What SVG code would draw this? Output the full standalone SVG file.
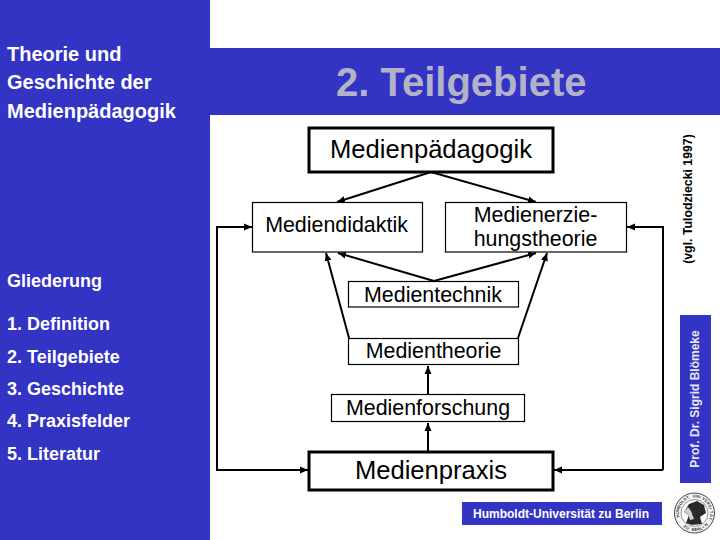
<svg xmlns="http://www.w3.org/2000/svg" width="720" height="540" viewBox="0 0 720 540">
<style>
text{font-family:"Liberation Sans",Arial,sans-serif;fill:#000}
.side{font-weight:700;fill:#fff;font-size:18px}
.head{font-size:20px}
.box{fill:#fff;stroke:#000;stroke-width:1.2}
.big{fill:#fff;stroke:#000;stroke-width:3}
.lab{font-size:21.4px;text-anchor:middle}
.lab2{font-size:25.600px;text-anchor:middle}
.con{fill:none;stroke:#000;stroke-width:2}
.seal{font-size:4px;font-weight:700}
</style>
<defs>
<marker id="arr" viewBox="0 0 8 8" refX="8" refY="4" markerWidth="8" markerHeight="8" markerUnits="userSpaceOnUse" orient="auto"><path d="M0 0.5L8 4L0 7.5Z" fill="#000"/></marker>
</defs>
<rect width="720" height="540" fill="#fff"/>
<g id="panel">
<rect x="0" y="0" width="210" height="540" fill="#3333c4"/>
<rect x="210" y="48" width="510" height="67" fill="#3333c4"/>
<text x="336" y="96" font-size="40" font-weight="700" style="fill:#b2b2c8">2. Teilgebiete</text>
</g>
<g id="sidebar">
<text class="side head" x="7" y="61">Theorie und</text>
<text class="side head" x="7" y="89">Geschichte der</text>
<text class="side head" x="7" y="118">Medienpädagogik</text>
<text class="side" x="7" y="287">Gliederung</text>
<text class="side" x="7" y="330">1. Definition</text>
<text class="side" x="7" y="363">2. Teilgebiete</text>
<text class="side" x="7" y="395">3. Geschichte</text>
<text class="side" x="7" y="427">4. Praxisfelder</text>
<text class="side" x="7" y="460">5. Literatur</text>
</g>
<g id="connectors">
<path class="con" marker-end="url(#arr)" d="M431 172L337 202"/>
<path class="con" marker-end="url(#arr)" d="M431 172L536 202"/>
<path class="con" marker-end="url(#arr)" d="M434 281L338 253"/>
<path class="con" marker-end="url(#arr)" d="M434 281L536 253"/>
<path class="con" marker-end="url(#arr)" d="M349 338L326 253"/>
<path class="con" marker-end="url(#arr)" d="M518 338L547 253"/>
<path class="con" marker-end="url(#arr)" d="M428 394L428 366"/>
<path class="con" marker-end="url(#arr)" d="M428 451L428 423"/>
<path class="con" marker-end="url(#arr)" d="M309 470L217 470L217 227L252 227"/>
<path class="con" marker-end="url(#arr)" d="M663 470L663 227L627 227"/>
<path class="con" marker-end="url(#arr)" d="M663 470L554 470"/>
<path class="con" marker-end="url(#arr)" d="M217 470L308 470"/>
</g>
<g id="n-medienpaedagogik"><rect class="big" x="309" y="128" width="244" height="44"/><text class="lab2" x="431" y="158">Medienpädagogik</text></g>
<g id="n-mediendidaktik"><rect class="box" x="252.500" y="202.500" width="170" height="49.500"/><text class="lab" x="336.500" y="231.500">Mediendidaktik</text></g>
<g id="n-medienerziehung"><rect class="box" x="445.500" y="202.500" width="181" height="49.500"/><text class="lab" x="535.500" y="221.500">Medienerzie-</text><text class="lab" x="535.500" y="245.500">hungstheorie</text></g>
<g id="n-medientechnik"><rect class="box" x="348.500" y="281.500" width="170" height="25.500"/><text class="lab" x="433" y="301.500">Medientechnik</text></g>
<g id="n-medientheorie"><rect class="box" x="348.500" y="338.500" width="170" height="26"/><text class="lab" x="433.500" y="357.500">Medientheorie</text></g>
<g id="n-medienforschung"><rect class="box" x="331.500" y="394.500" width="193" height="27"/><text class="lab" x="428" y="415">Medienforschung</text></g>
<g id="n-medienpraxis"><rect class="big" x="309" y="452" width="244" height="38"/><text class="lab2" x="431" y="479">Medienpraxis</text></g>
<g id="footer">
<rect x="462" y="502" width="200" height="23" fill="#3333c4"/>
<text x="561" y="518" font-size="12" font-weight="700" text-anchor="middle" style="fill:#fff">Humboldt-Universität zu Berlin</text>
<rect x="680" y="315" width="31" height="168" fill="#3333c4"/>
<text transform="translate(699 399) rotate(-90)" font-size="12" font-weight="700" text-anchor="middle" style="fill:#e8e8f4">Prof. Dr. Sigrid Blömeke</text>
<text transform="translate(692 199) rotate(-90)" font-size="12.300" font-weight="700" text-anchor="middle">(vgl. Tulodziecki 1997)</text>
</g>
<g id="seal">
<circle cx="694.500" cy="513" r="20" fill="#f4f4f4" stroke="#444" stroke-width="1"/>
<circle cx="694.500" cy="513" r="13.500" fill="#fff" stroke="#666" stroke-width="0.700"/>
<text class="seal" style="fill:#333" x="679.500 679 679.100 679.800 681 682.700 684.800 687.300 690.100 693 696 698.900 701.700 704.200 706.300 708 709.200 709.900 710 709.500" y="517 514.100 511.100 508.200 505.400 503 500.900 499.300 498.200 497.600 497.600 498.200 499.300 500.900 503 505.400 508.200 511.100 514.100 517" rotate="-105 -94 -83 -72 -61 -50 -39 -28 -17 -6 6 17 28 39 50 61 72 83 94 105">HUMBOLDT UNIVERSITÄT</text>
<text class="seal" style="fill:#333" x="682.900 685.500 688.300 691.400 694.500 697.600 700.700 703.500 706.100" y="526.800 528.600 529.900 530.700 531 530.700 529.900 528.600 526.800" rotate="40 30 20 10 0 -10 -20 -30 -40">ZU BERLIN</text>
<path d="M686 523L689 515L684 512L689 504L697 501L704 505L706 513L700 517L702 524L692 525Z" fill="#2a2a2a"/>
<path d="M688 507L684 512L688 514L690 520L694 519L691 511Z" fill="#d0d0d0"/>
</g>
</svg>
